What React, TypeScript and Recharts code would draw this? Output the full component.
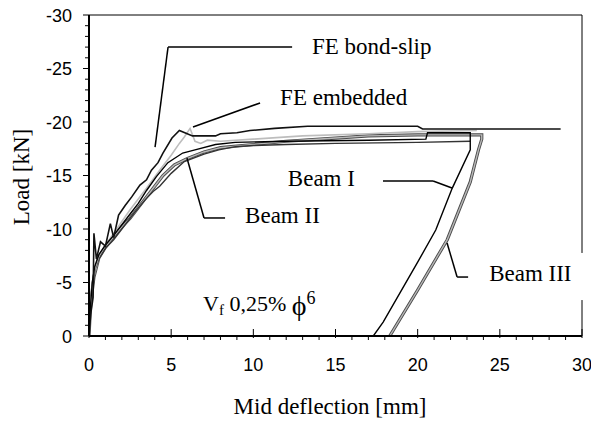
import React from 'react'
import { LineChart, Line, XAxis, YAxis, ReferenceLine, ReferenceDot } from 'recharts'

// let the chart use the whole window, the tick label "30" reaches the right edge
if (typeof document !== 'undefined') document.body.style.margin = '0'

interface Pt {
  x: number
  y: number
}

// mid deflection [mm] vs load [kN]
const feBondSlip: Pt[] = [
  { x: 0, y: 0 }, { x: 0.1, y: -2.0 }, { x: 0.25, y: -3.6 }, { x: 0.3, y: -9.6 },
  { x: 0.45, y: -7.2 }, { x: 0.7, y: -8.8 }, { x: 1.0, y: -8.4 }, { x: 1.3, y: -10.5 },
  { x: 1.5, y: -9.2 }, { x: 1.8, y: -11.3 }, { x: 2.2, y: -12.2 }, { x: 2.6, y: -13.0 },
  { x: 3.1, y: -14.1 }, { x: 3.5, y: -14.6 }, { x: 3.8, y: -15.5 }, { x: 4.2, y: -16.2 },
  { x: 4.5, y: -17.1 }, { x: 5.05, y: -18.5 }, { x: 5.5, y: -19.2 }, { x: 6.3, y: -18.7 },
  { x: 7.7, y: -18.7 }, { x: 8.0, y: -18.9 }, { x: 9.0, y: -19.0 }, { x: 9.8, y: -19.2 },
  { x: 11.3, y: -19.4 }, { x: 13.3, y: -19.6 }, { x: 20.0, y: -19.6 }, { x: 20.3, y: -19.35 },
  { x: 28.7, y: -19.35 },
]

const feEmbedded: Pt[] = [
  { x: 0, y: 0 }, { x: 0.15, y: -4.0 }, { x: 0.3, y: -6.0 }, { x: 0.6, y: -7.5 },
  { x: 1.0, y: -8.5 }, { x: 1.5, y: -9.6 }, { x: 2.0, y: -10.7 }, { x: 2.5, y: -11.8 },
  { x: 3.0, y: -12.8 }, { x: 3.5, y: -13.8 }, { x: 4.3, y: -15.5 }, { x: 5.0, y: -16.9 },
  { x: 5.5, y: -18.0 }, { x: 5.8, y: -18.6 }, { x: 6.15, y: -19.4 }, { x: 6.45, y: -18.2 },
  { x: 6.8, y: -18.0 }, { x: 7.2, y: -18.3 }, { x: 8.0, y: -18.2 }, { x: 10, y: -18.4 },
  { x: 13, y: -18.7 }, { x: 17, y: -18.9 }, { x: 20, y: -19.1 }, { x: 23.6, y: -19.2 },
]

const beamI: Pt[] = [
  { x: 0, y: 0 }, { x: 0.1, y: -3.0 }, { x: 0.2, y: -5.0 }, { x: 0.35, y: -6.5 },
  { x: 0.6, y: -7.6 }, { x: 1.0, y: -8.5 }, { x: 1.5, y: -9.4 }, { x: 2.0, y: -10.4 },
  { x: 2.5, y: -11.4 }, { x: 3.0, y: -12.4 }, { x: 3.5, y: -13.6 }, { x: 4.1, y: -14.9 },
  { x: 4.8, y: -16.2 }, { x: 5.7, y: -17.1 }, { x: 6.45, y: -17.4 }, { x: 7.7, y: -17.9 },
  { x: 8.9, y: -18.1 }, { x: 12, y: -18.2 }, { x: 17, y: -18.3 }, { x: 20.5, y: -18.4 },
  { x: 20.6, y: -19.0 }, { x: 23.2, y: -19.0 }, { x: 23.2, y: -17.4 }, { x: 22.1, y: -13.8 },
  { x: 21.1, y: -9.9 }, { x: 20.0, y: -6.9 }, { x: 17.9, y: -1.3 }, { x: 17.3, y: 0 },
]

const beamII: Pt[] = [
  { x: 0, y: 0 }, { x: 0.1, y: -2.5 }, { x: 0.36, y: -6.2 }, { x: 0.6, y: -7.2 },
  { x: 1.0, y: -8.2 }, { x: 1.5, y: -9.0 }, { x: 2.0, y: -10.0 }, { x: 2.8, y: -11.6 },
  { x: 3.4, y: -12.7 }, { x: 3.9, y: -13.5 }, { x: 4.3, y: -14.0 }, { x: 5.0, y: -15.2 },
  { x: 5.8, y: -16.3 }, { x: 7.0, y: -17.0 }, { x: 7.9, y: -17.4 }, { x: 8.9, y: -17.7 },
  { x: 10, y: -17.8 }, { x: 12, y: -17.9 }, { x: 15, y: -18.0 }, { x: 20, y: -18.1 },
  { x: 23.2, y: -18.2 },
]

const beamIII: Pt[] = [
  { x: 0, y: 0 }, { x: 0.1, y: -3.0 }, { x: 0.3, y: -5.5 }, { x: 0.6, y: -7.3 },
  { x: 1.0, y: -8.3 }, { x: 1.5, y: -9.3 }, { x: 2.0, y: -10.2 }, { x: 2.5, y: -11.0 },
  { x: 3.0, y: -12.0 }, { x: 3.5, y: -13.0 }, { x: 4.0, y: -14.0 }, { x: 4.5, y: -15.0 },
  { x: 5.2, y: -16.0 }, { x: 6.0, y: -16.6 }, { x: 7.0, y: -17.2 }, { x: 8.0, y: -17.6 },
  { x: 10, y: -17.9 }, { x: 12, y: -18.2 }, { x: 15, y: -18.5 }, { x: 17, y: -18.7 },
  { x: 20, y: -18.8 }, { x: 23.9, y: -18.8 }, { x: 23.9, y: -18.4 }, { x: 23.7, y: -17.4 },
  { x: 23.2, y: -14.4 }, { x: 21.8, y: -9.0 }, { x: 20.0, y: -4.3 }, { x: 18.3, y: 0 },
]

const xTicks = Array.from({ length: 31 }, (_, i) => i)
const yTicks = Array.from({ length: 31 }, (_, i) => -i)

// leader lines: polylines in data coords
const leaders: Pt[][] = [
  [{ x: 12.36, y: -27.0 }, { x: 4.81, y: -27.0 }, { x: 4.02, y: -17.66 }],
  [{ x: 10.41, y: -21.78 }, { x: 6.33, y: -19.53 }],
  [{ x: 17.89, y: -14.49 }, { x: 20.94, y: -14.49 }, { x: 22.09, y: -13.83 }],
  [{ x: 8.28, y: -11.03 }, { x: 7.0, y: -11.03 }, { x: 5.96, y: -16.64 }],
  [{ x: 23.07, y: -5.51 }, { x: 22.4, y: -5.51 }, { x: 21.79, y: -8.69 }],
]

const labels = [
  { text: 'FE bond-slip', x: 13.57, y: -26.4 },
  { text: 'FE embedded', x: 11.63, y: -21.6 },
  { text: 'Beam I', x: 12.1, y: -14.0 },
  { text: 'Beam II', x: 9.5, y: -10.55 },
  { text: 'Beam III', x: 24.35, y: -5.15 },
]

const serif = '"Liberation Serif", "Times New Roman", serif'
const sans = '"Liberation Sans", Arial, sans-serif'

function XTick(props: any) {
  const { x, y, payload } = props
  const v = payload.value
  const major = v % 5 === 0
  return (
    <g>
      <line x1={x} x2={x} y1={major ? y - 7 : y} y2={y + (major ? 2 : 4)} stroke="#000" strokeWidth={1} />
      {major && (
        <text x={x} y={y + 35} textAnchor="middle" fontFamily={sans} fontSize={18} fill="#000">
          {v}
        </text>
      )}
    </g>
  )
}

function YTick(props: any) {
  const { x, y, payload } = props
  const v = payload.value
  const major = v % 5 === 0
  return (
    <g>
      <line x1={x - (major ? 6 : 4)} x2={x} y1={y} y2={y} stroke="#000" strokeWidth={1} />
      {major && (
        <text x={x - 17} y={y + 6.5} textAnchor="end" fontFamily={sans} fontSize={18} fill="#000">
          {v}
        </text>
      )}
    </g>
  )
}

const textShape = (text: string) => (p: any) => (
  <text x={p.cx} y={p.cy} fontFamily={serif} fontSize={23} fill="#000">
    {text}
  </text>
)

const vfShape = (p: any) => (
  <text x={p.cx} y={p.cy} fontFamily={serif} fontSize={22} fill="#000">
    <tspan>V</tspan>
    <tspan dy={4} fontSize={15}>f</tspan>
    <tspan dy={-4}> 0,25% </tspan>
    <tspan dy={4} fontSize={28}>ϕ</tspan>
    <tspan dy={-11} fontSize={18}>6</tspan>
  </text>
)

export default function App() {
  return (
    <div style={{ position: 'relative', width: 591, height: 421 }}>
      <LineChart width={591} height={421} margin={{ top: 15, right: 9, left: 29, bottom: 25 }}>
        <XAxis
          type="number"
          dataKey="x"
          domain={[0, 30]}
          ticks={xTicks}
          interval={0}
          tickSize={0}
          tickMargin={0}
          tickLine={false}
          tick={<XTick />}
          axisLine={{ stroke: '#000', strokeWidth: 2 }}
          height={60}
          allowDataOverflow
        />
        <YAxis
          type="number"
          dataKey="y"
          domain={[-30, 0]}
          reversed
          ticks={yTicks}
          interval={0}
          tickSize={0}
          tickMargin={0}
          tickLine={false}
          tick={<YTick />}
          axisLine={{ stroke: '#000', strokeWidth: 2 }}
          width={60}
          allowDataOverflow
        />

        {/* frame: top and right, right one broken behind the Beam III label */}
        <ReferenceLine segment={[{ x: 0, y: -30 }, { x: 30, y: -30 }]} stroke="#000" strokeWidth={1} />
        <ReferenceLine segment={[{ x: 30, y: -30 }, { x: 30, y: -7.76 }]} stroke="#000" strokeWidth={1} />
        <ReferenceLine segment={[{ x: 30, y: -3.36 }, { x: 30, y: 0 }]} stroke="#000" strokeWidth={1} />

        {/* Beam III drawn as grey band with dark edges */}
        <Line data={beamIII} dataKey="y" type="linear" stroke="#4a4a4a" strokeWidth={3.2} dot={false} isAnimationActive={false} />
        <Line data={beamIII} dataKey="y" type="linear" stroke="#b8b8b8" strokeWidth={1.4} dot={false} isAnimationActive={false} />
        <Line data={beamII} dataKey="y" type="linear" stroke="#333" strokeWidth={1.4} dot={false} isAnimationActive={false} />
        <Line data={feEmbedded} dataKey="y" type="linear" stroke="#bdbdbd" strokeWidth={1.6} dot={false} isAnimationActive={false} />
        <Line data={beamI} dataKey="y" type="linear" stroke="#000" strokeWidth={1.4} dot={false} isAnimationActive={false} />
        <Line data={feBondSlip} dataKey="y" type="linear" stroke="#111" strokeWidth={1.6} dot={false} isAnimationActive={false} />

        {leaders.flatMap((pl, i) =>
          pl.slice(1).map((p, j) => (
            <ReferenceLine
              key={`ld-${i}-${j}`}
              segment={[pl[j], p]}
              stroke="#000"
              strokeWidth={1.5}
            />
          ))
        )}

        {labels.map((l) => (
          <ReferenceDot key={l.text} x={l.x} y={l.y} r={0} shape={textShape(l.text)} />
        ))}
        <ReferenceDot x={6.94} y={-2.3} r={0} shape={vfShape} />
      </LineChart>

      <div
        style={{
          position: 'absolute',
          left: 22,
          top: 177,
          transform: 'translate(-50%, -50%) rotate(-90deg)',
          fontFamily: serif,
          fontSize: 23,
          whiteSpace: 'nowrap',
        }}
      >
        Load [kN]
      </div>
      <div
        style={{
          position: 'absolute',
          left: 330,
          top: 407,
          transform: 'translate(-50%, -50%)',
          fontFamily: serif,
          fontSize: 23,
          whiteSpace: 'nowrap',
        }}
      >
        Mid deflection [mm]
      </div>
    </div>
  )
}
